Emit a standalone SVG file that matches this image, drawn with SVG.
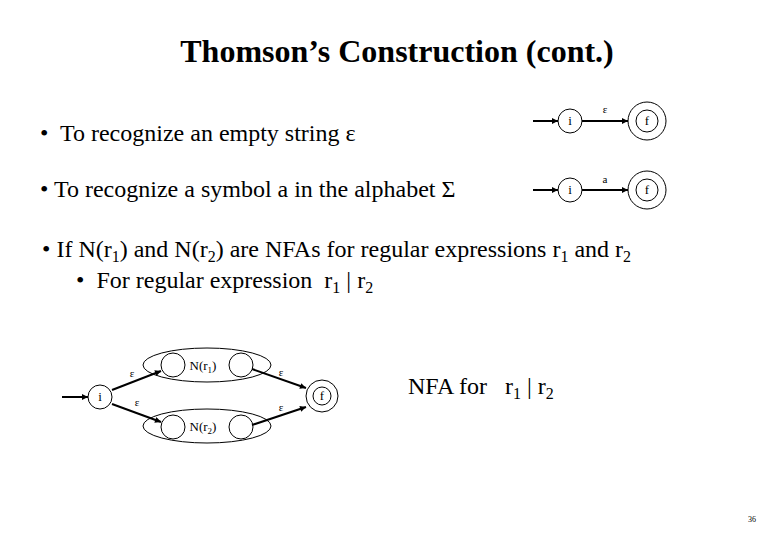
<svg xmlns="http://www.w3.org/2000/svg" width="780" height="540" viewBox="0 0 780 540">
<defs>
<marker id="ah" viewBox="0 0 10 10" refX="10" refY="5" markerWidth="7" markerHeight="6" markerUnits="userSpaceOnUse" orient="auto"><path d="M0,0 L10,5 L0,10 z" fill="#000"/></marker>
</defs>
<style>
.t{font-family:"Liberation Serif","Times New Roman",serif;fill:#000;white-space:pre}
.st{fill:none;stroke:#000;stroke-width:1}
.e{stroke:#000;stroke-width:2;fill:none;marker-end:url(#ah)}
.lb{font-family:"Liberation Serif",serif;font-size:11px;fill:#000;text-anchor:middle}
.nl{font-family:"Liberation Serif",serif;font-size:13px;fill:#000;text-anchor:middle}
</style>
<rect width="780" height="540" fill="#fff"/>
<text class="t" x="397" y="62" font-size="32" font-weight="bold" text-anchor="middle">Thomson’s Construction (cont.)</text>
<text class="t" x="40" y="141" font-size="24" xml:space="preserve">•  To recognize an empty string ε</text>
<text class="t" x="40" y="197" font-size="24" xml:space="preserve">• To recognize a symbol a in the alphabet Σ</text>
<text class="t" x="42" y="257" font-size="24" xml:space="preserve">• If N(r<tspan font-size="16" dy="5">1</tspan><tspan dy="-5">) and N(r</tspan><tspan font-size="16" dy="5">2</tspan><tspan dy="-5">) are NFAs for regular expressions r</tspan><tspan font-size="16" dy="5">1</tspan><tspan dy="-5"> and r</tspan><tspan font-size="16" dy="5">2</tspan></text>
<text class="t" x="76" y="288" font-size="24" xml:space="preserve">•  For regular expression  r<tspan font-size="16" dy="5">1</tspan><tspan dy="-5"> | r</tspan><tspan font-size="16" dy="5">2</tspan></text>
<text class="t" x="408" y="394" font-size="24" xml:space="preserve">NFA for   r<tspan font-size="16" dy="5">1</tspan><tspan dy="-5"> | r</tspan><tspan font-size="16" dy="5">2</tspan></text>
<text class="t" x="748" y="522" font-size="8">36</text>
<g id="connectors">
<line class="e" x1="533" y1="121" x2="558" y2="121"/>
<line class="e" x1="582" y1="121" x2="628" y2="121"/>
<line class="e" x1="533" y1="190" x2="558" y2="190"/>
<line class="e" x1="582" y1="190" x2="628" y2="190"/>
<line class="e" x1="62" y1="397" x2="88" y2="397"/>
<line class="e" x1="112" y1="390" x2="161" y2="371"/>
<line class="e" x1="112" y1="404" x2="161" y2="422"/>
<line class="e" x1="252" y1="369" x2="306" y2="388"/>
<line class="e" x1="252" y1="425" x2="306" y2="407"/>
<text class="lb" x="605" y="113">ε</text>
<text class="lb" x="605" y="183">a</text>
<text class="lb" x="132" y="377">ε</text>
<text class="lb" x="137" y="406">ε</text>
<text class="lb" x="281" y="376">ε</text>
<text class="lb" x="281" y="411">ε</text>
</g>
<g id="i1"><circle class="st" cx="570" cy="121" r="12"/><text class="nl" x="570" y="125">i</text></g>
<g id="f1"><circle class="st" cx="647" cy="121" r="19"/><circle class="st" cx="647" cy="121" r="11"/><text class="nl" x="647" y="125">f</text></g>
<g id="i2"><circle class="st" cx="570" cy="190" r="12"/><text class="nl" x="570" y="194">i</text></g>
<g id="f2"><circle class="st" cx="647" cy="190" r="19"/><circle class="st" cx="647" cy="190" r="11"/><text class="nl" x="647" y="194">f</text></g>
<g id="i3"><circle class="st" cx="100" cy="397" r="12"/><text class="nl" x="100" y="401">i</text></g>
<g id="Nr1"><ellipse class="st" cx="207" cy="365" rx="64" ry="17"/><circle class="st" cx="173" cy="365" r="12"/><circle class="st" cx="241" cy="365" r="12"/><text class="nl" x="203" y="370">N(r<tspan font-size="9" dy="3">1</tspan><tspan dy="-3">)</tspan></text></g>
<g id="Nr2"><ellipse class="st" cx="207" cy="426" rx="64" ry="17"/><circle class="st" cx="173" cy="427" r="12"/><circle class="st" cx="241" cy="427" r="12"/><text class="nl" x="203" y="431">N(r<tspan font-size="9" dy="3">2</tspan><tspan dy="-3">)</tspan></text></g>
<g id="f3"><circle class="st" cx="322" cy="396" r="16"/><circle class="st" cx="322" cy="396" r="9"/><text class="nl" x="322" y="400">f</text></g>
</svg>
